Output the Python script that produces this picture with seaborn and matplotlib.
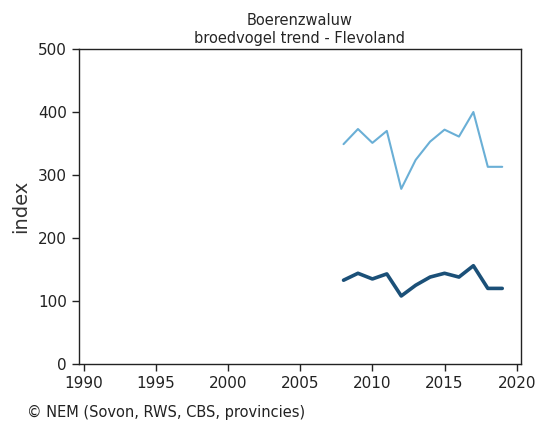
import matplotlib
matplotlib.use('Agg')
import matplotlib.pyplot as plt
import seaborn as sns
import pandas as pd

# data
jaren = [2008, 2009, 2010, 2011, 2012, 2013, 2014, 2015, 2016, 2017, 2018, 2019]
bovengrens = [349, 373, 351, 370, 278, 324, 353, 372, 361, 400, 313, 313]
index_waarden = [133, 144, 135, 143, 108, 125, 138, 144, 138, 156, 120, 120]
x_ticks = [1990, 1995, 2000, 2005, 2010, 2015, 2020]
y_ticks = [0, 100, 200, 300, 400, 500]

sns.set_style('ticks')
plt.rcParams['font.family'] = ['DejaVu Sans']

df = pd.DataFrame({'jaar': jaren, 'boven': bovengrens, 'index': index_waarden})

fig = plt.figure(figsize=(5.36, 4.30), dpi=100)
ax = fig.add_axes([0.147, 0.1535, 0.825, 0.7325])

sns.lineplot(data=df, x='jaar', y='boven', ax=ax, color='#6aafd6', linewidth=1.5)
sns.lineplot(data=df, x='jaar', y='index', ax=ax, color='#1b5078', linewidth=2.6)

ax.set_xlim(1989.65, 2020.3)
ax.set_ylim(0, 500)
ax.set_xticks(x_ticks)
ax.set_yticks(y_ticks)
ax.tick_params(direction='out', length=5, width=1, labelsize=11, colors='#222222')
for s in ax.spines.values():
    s.set_color('#222222')
    s.set_linewidth(1)

ax.set_xlabel('')
ax.set_ylabel('index', fontsize=14, color='#333333', labelpad=6)
ax.set_title('Boerenzwaluw\nbroedvogel trend - Flevoland', fontsize=10.5, pad=4, linespacing=1.3)

fig.text(0.05, 0.03, '© NEM (Sovon, RWS, CBS, provincies)', fontsize=10.5, color='#222222')

fig.savefig('out.png', dpi=100)
